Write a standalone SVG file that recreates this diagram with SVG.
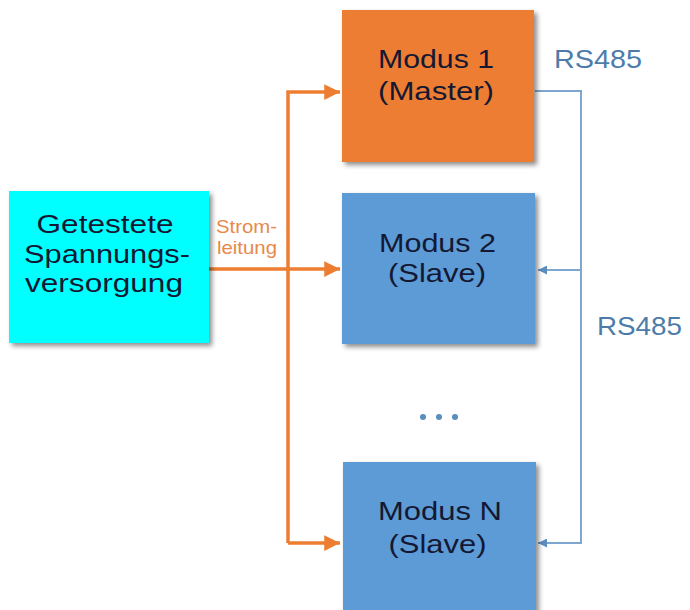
<svg xmlns="http://www.w3.org/2000/svg" width="690" height="610" viewBox="0 0 690 610">
<defs>
<filter id="sh" x="-10%" y="-10%" width="130%" height="130%">
<feGaussianBlur in="SourceAlpha" stdDeviation="2.5"/>
<feOffset dx="3" dy="3" result="b"/>
<feComponentTransfer><feFuncA type="linear" slope="0.45"/></feComponentTransfer>
<feMerge><feMergeNode/><feMergeNode in="SourceGraphic"/></feMerge>
</filter>
<marker id="ao" viewBox="0 0 10 10" refX="10" refY="5" markerWidth="5.5" markerHeight="4.5" markerUnits="strokeWidth" orient="auto"><path d="M0,0 L10,5 L0,10 Z" fill="#ED7D31"/></marker>
<marker id="ab" viewBox="0 0 10 10" refX="10" refY="5" markerWidth="4.5" markerHeight="4.5" markerUnits="strokeWidth" orient="auto"><path d="M0,0 L10,5 L0,10 Z" fill="#5B8DBE"/></marker>
</defs>
<style>
.t{font-family:"Liberation Sans",Arial,sans-serif;font-size:26.5px;fill:#141833;text-anchor:middle}
.rs{font-family:"Liberation Sans",Arial,sans-serif;font-size:26px;fill:#4E7CAA}
.sl{font-family:"Liberation Sans",Arial,sans-serif;font-size:18.5px;fill:#E8894A}
.o{fill:none;stroke:#ED7D31;stroke-width:3.5}
.b{fill:none;stroke:#7FA6CF;stroke-width:2}
</style>
<rect width="690" height="610" fill="#ffffff"/>
<g id="connectors">
<path class="o" d="M288,543 L288,92 L340,92" marker-end="url(#ao)"/>
<path class="o" d="M209,269 L340,269" marker-end="url(#ao)"/>
<path class="o" d="M288,543 L340,543" marker-end="url(#ao)"/>
<path class="b" d="M535,91 L581,91 L581,543 L538,543" marker-end="url(#ab)"/>
<path class="b" d="M581,270 L538,270" marker-end="url(#ab)"/>
</g>
<g id="supply">
<rect x="9" y="191" width="200" height="152" fill="#00FFFF" filter="url(#sh)"/>
<text class="t" x="105" y="233" textLength="137" lengthAdjust="spacingAndGlyphs">Getestete</text>
<text class="t" x="107" y="263" textLength="166" lengthAdjust="spacingAndGlyphs">Spannungs-</text>
<text class="t" x="104" y="292" textLength="158" lengthAdjust="spacingAndGlyphs">versorgung</text>
</g>
<g id="label-strom">
<text class="sl" x="216" y="233" textLength="61" lengthAdjust="spacingAndGlyphs">Strom-</text>
<text class="sl" x="217" y="254" textLength="60" lengthAdjust="spacingAndGlyphs">leitung</text>
</g>
<g id="modul1">
<rect x="342" y="10" width="192" height="152" fill="#ED7D31" filter="url(#sh)"/>
<text class="t" x="436" y="68" textLength="116" lengthAdjust="spacingAndGlyphs">Modus 1</text>
<text class="t" x="436" y="100" textLength="116" lengthAdjust="spacingAndGlyphs">(Master)</text>
</g>
<g id="modul2">
<rect x="342" y="193" width="193" height="151" fill="#5B9BD5" filter="url(#sh)"/>
<text class="t" x="437.5" y="252" textLength="117" lengthAdjust="spacingAndGlyphs">Modus 2</text>
<text class="t" x="437" y="282" textLength="98" lengthAdjust="spacingAndGlyphs">(Slave)</text>
</g>
<g id="dots">
<circle cx="423" cy="417" r="3" fill="#5B8DBE"/>
<circle cx="439" cy="417" r="3" fill="#5B8DBE"/>
<circle cx="455" cy="417" r="3" fill="#5B8DBE"/>
</g>
<g id="modulN">
<rect x="343" y="462" width="193" height="160" fill="#5B9BD5" filter="url(#sh)"/>
<text class="t" x="440" y="520" textLength="124" lengthAdjust="spacingAndGlyphs">Modus N</text>
<text class="t" x="437.5" y="553" textLength="98" lengthAdjust="spacingAndGlyphs">(Slave)</text>
</g>
<g id="rs-labels">
<text class="rs" x="554" y="68" textLength="88" lengthAdjust="spacingAndGlyphs">RS485</text>
<text class="rs" x="597" y="335" textLength="85" lengthAdjust="spacingAndGlyphs">RS485</text>
</g>
</svg>
